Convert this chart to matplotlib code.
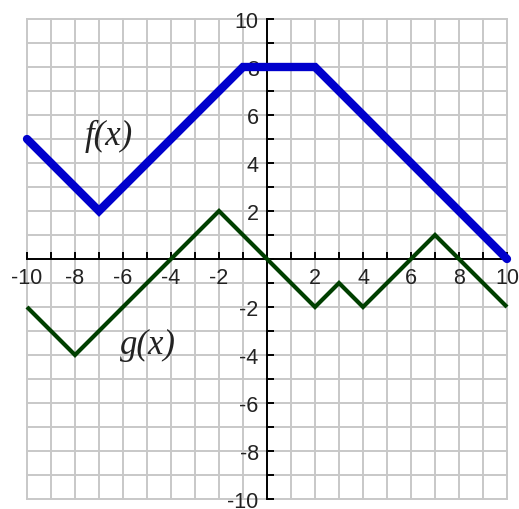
import numpy as np
import matplotlib
matplotlib.use("Agg")
import matplotlib.pyplot as plt

# data --------------------------------------------------------
f_x = [-10, -7, -1, 2, 10]
f_y = [5, 2, 8, 8, 0]

g_x = [-10, -8, -2, 0, 2, 3, 4, 7, 10]
g_y = [-2, -4, 2, 0, -2, -1, -2, 1, -2]

ticks = list(range(-10, 11))
tick_labels = [str(t) if (t % 2 == 0 and t != 0) else "" for t in ticks]

# figure ------------------------------------------------------
fig = plt.figure(figsize=(5.19, 5.10), dpi=100)
ax = fig.add_axes([27 / 519, 10 / 510, 480 / 519, 480 / 510])
ax.set_xlim(-10, 10)
ax.set_ylim(-10, 10)

# grid
for t in ticks:
    ax.axvline(t, color="#c8c8c8", lw=1.4, zorder=0, clip_on=False)
    ax.axhline(t, color="#c8c8c8", lw=1.4, zorder=0, clip_on=False)

# axes through origin
ax.spines["left"].set_position(("data", 0))
ax.spines["bottom"].set_position(("data", 0))
ax.spines["top"].set_visible(False)
ax.spines["right"].set_visible(False)
for s in ["left", "bottom"]:
    ax.spines[s].set_linewidth(1.4)
    ax.spines[s].set_zorder(1)

ax.set_xticks(ticks)
ax.set_yticks(ticks)
ax.set_xticklabels(tick_labels)
ax.set_yticklabels(tick_labels)
ax.tick_params(axis="both", direction="in", length=5, width=1.4,
               labelsize=15.5, colors="black", labelcolor="#222222")
ax.tick_params(axis="x", pad=6)
ax.tick_params(axis="y", pad=6)
for lab in ax.get_xticklabels() + ax.get_yticklabels():
    lab.set_fontfamily("Liberation Sans")

# lines
ax.plot(f_x, f_y, color="#0000cc", lw=6, solid_capstyle="round",
        solid_joinstyle="miter", zorder=3, clip_on=False)
ax.plot(g_x, g_y, color="#003f00", lw=3, solid_capstyle="butt",
        solid_joinstyle="miter", zorder=3, clip_on=False)

ax.text(-6.6, 5.15, "f(x)", fontsize=25, style="italic",
        family="Liberation Serif", ha="center", va="center", color="#222222")
ax.text(-4.95, -3.55, "g(x)", fontsize=25, style="italic",
        family="Liberation Serif", ha="center", va="center", color="#222222")

fig.savefig("out.png", dpi=100)
